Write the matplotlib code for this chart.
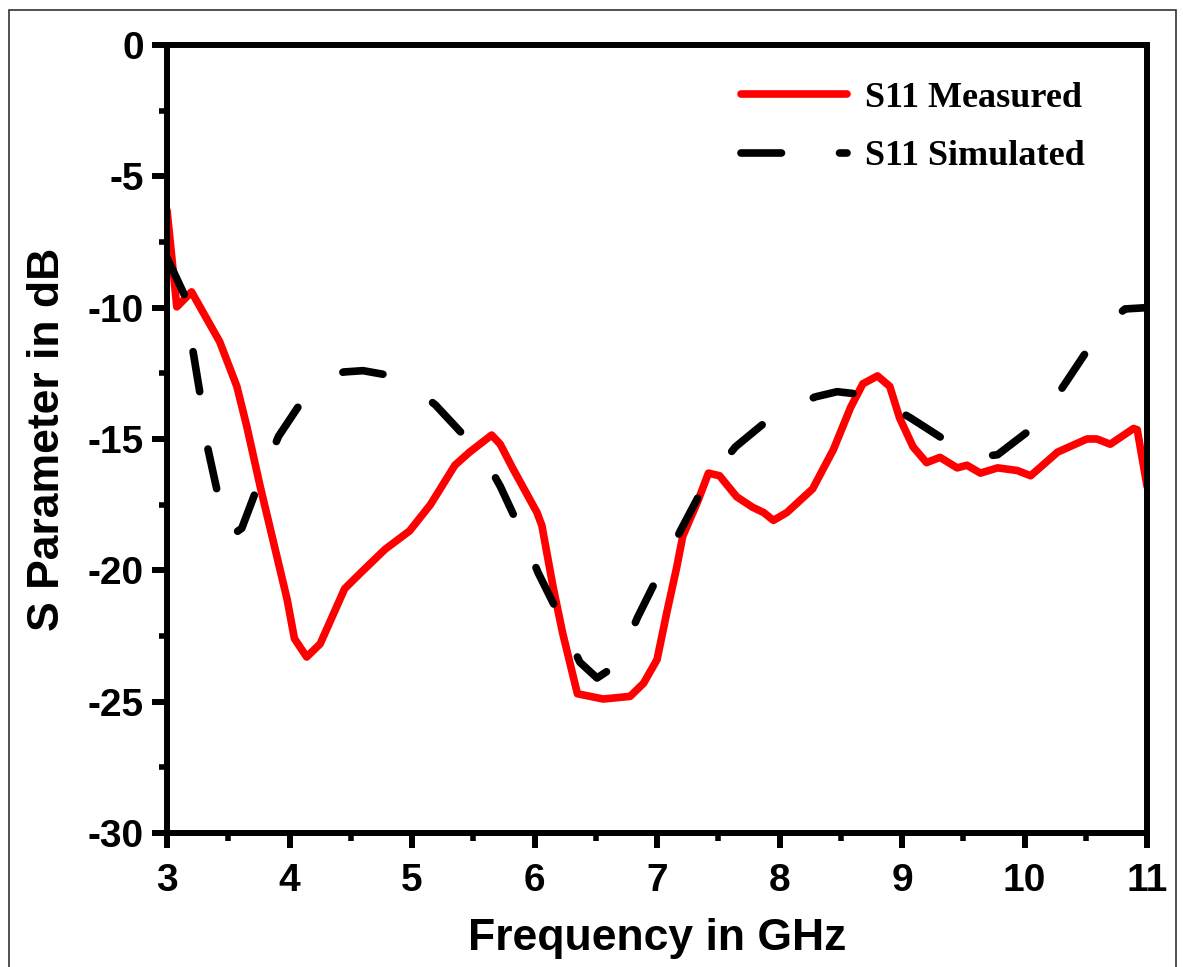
import numpy as np
import matplotlib
matplotlib.use("Agg")
import matplotlib.pyplot as plt
from matplotlib.patches import Rectangle
from matplotlib.ticker import MultipleLocator

plt.rcParams["axes.unicode_minus"] = False

# measured S11 (GHz, dB)
meas_f = [3.0, 3.08, 3.2, 3.43, 3.57, 3.65, 3.76, 3.98, 4.04, 4.14, 4.25, 4.45, 4.58,
          4.78, 4.98, 5.15, 5.35, 5.47, 5.65, 5.72, 5.82, 6.02, 6.06, 6.15, 6.23, 6.35,
          6.56, 6.78, 6.89, 7.0, 7.08, 7.16, 7.21, 7.33, 7.42, 7.51, 7.65, 7.78, 7.87,
          7.95, 8.06, 8.27, 8.44, 8.58, 8.68, 8.8, 8.9, 8.98, 9.09, 9.2, 9.31, 9.45,
          9.53, 9.64, 9.78, 9.94, 10.05, 10.27, 10.51, 10.59, 10.7, 10.89, 10.92, 11.0]
meas_s = [-6.3, -9.97, -9.4, -11.3, -13.0, -14.5, -16.8, -21.1, -22.6, -23.3, -22.8,
          -20.7, -20.1, -19.2, -18.5, -17.5, -16.0, -15.5, -14.85, -15.2, -16.1, -17.8,
          -18.3, -20.6, -22.4, -24.7, -24.9, -24.8, -24.3, -23.4, -21.6, -19.9, -18.7,
          -17.4, -16.3, -16.4, -17.2, -17.6, -17.8, -18.1, -17.8, -16.9, -15.4, -13.8,
          -12.9, -12.6, -13.0, -14.2, -15.3, -15.9, -15.7, -16.1, -16.0, -16.3, -16.1,
          -16.2, -16.4, -15.5, -15.0, -15.0, -15.2, -14.6, -14.65, -16.8]

# simulated S11 (GHz, dB)
sim_f = [3.0, 3.15, 3.21, 3.27, 3.33, 3.41, 3.52, 3.61, 3.74, 3.91, 4.11, 4.25, 4.44,
         4.6, 4.84, 5.0, 5.19, 5.45, 5.6, 5.72, 5.86, 6.03, 6.19, 6.28, 6.37, 6.51,
         6.64, 6.74, 6.84, 7.0, 7.1, 7.19, 7.36, 7.5, 7.64, 7.9, 8.1, 8.29, 8.47, 8.66,
         8.85, 9.07, 9.37, 9.6, 9.78, 10.06, 10.2, 10.33, 10.53, 10.68, 10.82, 11.0]
sim_s = [-8.1, -9.6, -11.6, -13.3, -15.3, -17.0, -18.7, -18.4, -16.8, -14.9, -13.5,
         -12.9, -12.45, -12.4, -12.6, -13.0, -13.7, -15.0, -15.8, -16.8, -18.2, -20.1,
         -21.6, -22.6, -23.5, -24.1, -23.7, -22.9, -21.8, -20.3, -19.4, -18.5, -17.0,
         -16.1, -15.3, -14.3, -13.8, -13.4, -13.2, -13.3, -13.6, -14.2, -15.1, -15.7,
         -15.6, -14.6, -13.8, -12.9, -11.5, -10.6, -10.05, -10.0]

fig = plt.figure(figsize=(11.83, 9.67), dpi=100)
ax = fig.add_axes([0.1412, 0.1386, 0.8284, 0.8149])

lw = 5.5
ax.plot(meas_f, meas_s, color="red", lw=lw, solid_joinstyle="round",
        solid_capstyle="round", label="S11 Measured")
ax.plot(sim_f, sim_s, color="black", lw=lw, dashes=(5.3, 7.6),
        dash_capstyle="round", label="S11 Simulated")

ax.set_xlim(3, 11)
ax.set_ylim(-30, 0)
ax.xaxis.set_major_locator(MultipleLocator(1))
ax.xaxis.set_minor_locator(MultipleLocator(0.5))
ax.yaxis.set_major_locator(MultipleLocator(5))
ax.yaxis.set_minor_locator(MultipleLocator(2.5))

for sp_ in ax.spines.values():
    sp_.set_linewidth(4.3)
ax.tick_params(which="major", direction="out", length=10.5, width=4.3,
               top=False, right=False)
ax.tick_params(axis="x", which="major", pad=11)
ax.tick_params(axis="y", which="major", pad=6)
ax.tick_params(which="minor", direction="out", length=6, width=4.0,
               top=False, right=False)
for lab in ax.get_xticklabels() + ax.get_yticklabels():
    lab.set_fontfamily("Liberation Sans")
    lab.set_fontweight("bold")
    lab.set_fontsize(28)

ax.set_xlabel("Frequency in GHz", fontsize=32, fontweight="bold",
              family="Liberation Sans", labelpad=14)
ax.set_ylabel("S Parameter in dB", fontsize=32, fontweight="bold",
              family="Liberation Sans", labelpad=14)

leg = ax.legend(loc="upper right", bbox_to_anchor=(0.97, 0.995), frameon=False,
                handlelength=2.95, handletextpad=0.5, labelspacing=0.7,
                prop={"family": "Liberation Serif", "weight": "bold", "size": 26})

# thin frame around the whole figure
fig.patches.append(Rectangle((9 / 1183, -0.05), 1167 / 1183, 1.05 - 10 / 967,
                             transform=fig.transFigure, fill=False,
                             edgecolor="#333333", lw=1.2))

fig.savefig("out.png", dpi=100)
